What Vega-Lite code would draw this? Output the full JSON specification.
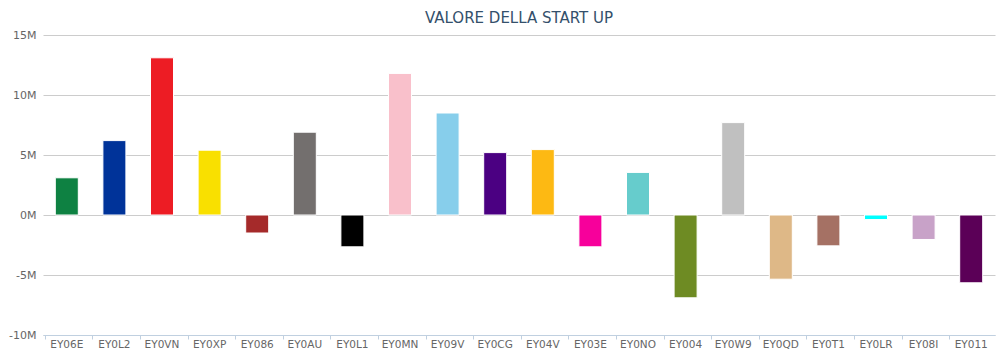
{
  "$schema": "https://vega.github.io/schema/vega-lite/v6.json",
  "width": 952,
  "height": 300,
  "padding": {"left": 0, "top": 11, "right": 5, "bottom": 0},
  "background": "white",
  "title": {"text": "VALORE DELLA START UP", "font": "DejaVu Sans", "fontSize": 15, "fontWeight": "normal", "color": "#34506b", "anchor": "middle", "offset": 3},
  "data": {"values": [
    {"code": "EY06E", "value": 3.1},
    {"code": "EY0L2", "value": 6.2},
    {"code": "EY0VN", "value": 13.1},
    {"code": "EY0XP", "value": 5.4},
    {"code": "EY086", "value": -1.5},
    {"code": "EY0AU", "value": 6.9},
    {"code": "EY0L1", "value": -2.65},
    {"code": "EY0MN", "value": 11.8},
    {"code": "EY09V", "value": 8.5},
    {"code": "EY0CG", "value": 5.2},
    {"code": "EY04V", "value": 5.45},
    {"code": "EY03E", "value": -2.65},
    {"code": "EY0NO", "value": 3.55},
    {"code": "EY004", "value": -6.9},
    {"code": "EY0W9", "value": 7.7},
    {"code": "EY0QD", "value": -5.35},
    {"code": "EY0T1", "value": -2.57},
    {"code": "EY0LR", "value": -0.38},
    {"code": "EY08I", "value": -2.04},
    {"code": "EY011", "value": -5.65}
  ]},
  "mark": {"type": "bar", "size": 23, "stroke": "white", "strokeWidth": 1},
  "encoding": {
    "x": {"field": "code", "type": "nominal", "sort": null,
      "axis": {"title": null, "labelAngle": 0, "labelFont": "DejaVu Sans", "labelFontSize": 10.5, "labelColor": "#666666", "domainColor": "#C0D0E0", "tickColor": "#C0D0E0", "tickSize": 4, "bandPosition": 0, "labelPadding": 0, "grid": false}},
    "y": {"field": "value", "type": "quantitative",
      "scale": {"domain": [-10, 15], "nice": false},
      "axis": {"title": null, "values": [-10, -5, 0, 5, 10, 15], "labelExpr": "datum.value + 'M'", "labelFont": "DejaVu Sans", "labelFontSize": 11, "labelColor": "#666666", "domain": false, "ticks": false, "gridColor": "#CCCCCC", "labelPadding": 7, "minExtent": 43, "maxExtent": 43}},
    "color": {"field": "code", "type": "nominal", "legend": null,
      "scale": {
        "domain": ["EY06E","EY0L2","EY0VN","EY0XP","EY086","EY0AU","EY0L1","EY0MN","EY09V","EY0CG","EY04V","EY03E","EY0NO","EY004","EY0W9","EY0QD","EY0T1","EY0LR","EY08I","EY011"],
        "range": ["#0E8142","#003399","#ED1C24","#F9E000","#A52A2A","#736F6E","#000000","#F9C0CB","#87CEEB","#4B0082","#FDB913","#F7009B","#66CCCC","#6E8B23","#C0C0C0","#DEB887","#A57164","#00FFFF","#C8A2C8","#5B0057"]}}
  },
  "config": {"view": {"stroke": null}}
}
